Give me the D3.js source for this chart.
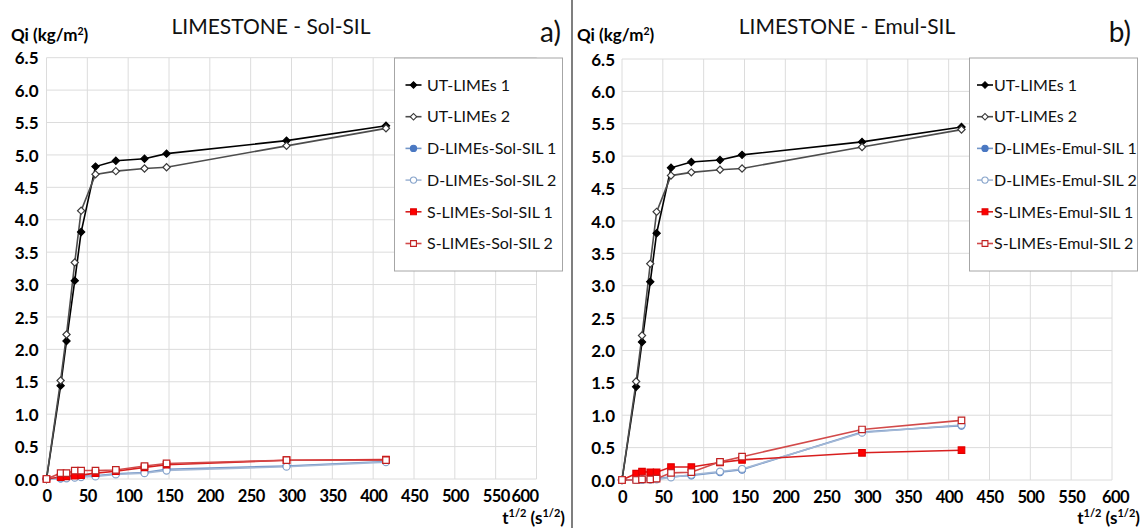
<!DOCTYPE html>
<html>
<head>
<meta charset="utf-8">
<script src="https://cdn.jsdelivr.net/npm/d3@7"></script>
<style>
  html, body { margin: 0; padding: 0; background: #fff; }
  svg { display: block; font-family: Lato, "Open Sans", sans-serif; }
</style>
</head>
<body>
<svg id="chart" width="1141" height="528"></svg>
<script>
// Square root of elapsed time, t^1/2 (s^1/2)
const tSqrt = [0, 17.3, 24.5, 34.6, 42.4, 60, 84.9, 120, 147, 293.9, 415.7];

// Untreated limestone (same in both panels)
const utLimes1 = [0, 1.44, 2.13, 3.06, 3.81, 4.82, 4.91, 4.94, 5.02, 5.22, 5.45];
const utLimes2 = [0, 1.52, 2.23, 3.34, 4.14, 4.70, 4.75, 4.79, 4.81, 5.14, 5.41];

// Sol-SIL treated
const dSol1 = [0, 0.01, 0.02, 0.03, 0.04, 0.05, 0.08, 0.10, 0.15, 0.20, 0.27];
const dSol2 = [0, 0.01, 0.01, 0.02, 0.03, 0.04, 0.07, 0.09, 0.13, 0.19, 0.26];
const sSol1 = [0, 0.03, 0.04, 0.05, 0.06, 0.09, 0.12, 0.18, 0.22, 0.29, 0.30];
const sSol2 = [0, 0.09, 0.09, 0.13, 0.13, 0.13, 0.14, 0.20, 0.24, 0.29, 0.29];

// Emul-SIL treated
const dEmul1 = [0, 0.00, 0.01, 0.01, 0.02, 0.05, 0.07, 0.12, 0.16, 0.74, 0.84];
const dEmul2 = [0, 0.00, 0.00, 0.01, 0.01, 0.04, 0.08, 0.13, 0.17, 0.73, 0.85];
const sEmul1 = [0, 0.10, 0.13, 0.12, 0.12, 0.20, 0.20, 0.27, 0.31, 0.42, 0.46];
const sEmul2 = [0, 0.00, 0.01, 0.01, 0.02, 0.11, 0.12, 0.28, 0.36, 0.78, 0.92];

const xTicks = [0, 50, 100, 150, 200, 250, 300, 350, 400, 450, 500, 550, 600];
const yTicks = [0, 0.5, 1, 1.5, 2, 2.5, 3, 3.5, 4, 4.5, 5, 5.5, 6, 6.5];

const utNames = ["UT-LIMEs 1", "UT-LIMEs 2"];
const solNames = ["D-LIMEs-Sol-SIL 1", "D-LIMEs-Sol-SIL 2", "S-LIMEs-Sol-SIL 1", "S-LIMEs-Sol-SIL 2"];
const emulNames = ["D-LIMEs-Emul-SIL 1", "D-LIMEs-Emul-SIL 2", "S-LIMEs-Emul-SIL 1", "S-LIMEs-Emul-SIL 2"];

// Line/marker styles, in legend order ("diamond" = square turned 45°)
const styles = [
  { line: "#000000", shape: "diamond", fill: "#000000", stroke: "#000000" },
  { line: "#4d4d4d", shape: "diamond", fill: "#ffffff", stroke: "#3a3a3a" },
  { line: "#7396c8", shape: "circle",  fill: "#4a78c2", stroke: "#4a78c2" },
  { line: "#a3b8d6", shape: "circle",  fill: "#ffffff", stroke: "#8aa6cc" },
  { line: "#d81e1e", shape: "square",  fill: "#ff0000", stroke: "#e00000" },
  { line: "#d24a4a", shape: "square",  fill: "#ffffff", stroke: "#c02020" }
];

function markerPath(shape, scale) {
  if (shape === "circle") return d3.symbol().type(d3.symbolCircle).size(38 * scale)();
  if (shape === "square") return d3.symbol().type(d3.symbolSquare).size(42 * scale)();
  return d3.symbol().type(d3.symbolSquare).size(26 * scale)();
}
const markerRot = shape => shape === "diamond" ? " rotate(45)" : "";

const svg = d3.select("#chart");

// panel divider
svg.append("line")
  .attr("x1", 572).attr("x2", 572).attr("y1", 0).attr("y2", 528)
  .attr("stroke", "#555").attr("stroke-width", 1.5);

function drawPanel(cfg) {
  const g = svg.append("g");
  const x = d3.scaleLinear().domain([0, 600]).range([cfg.x0, cfg.x1]);
  const y = d3.scaleLinear().domain([0, 6.5]).range([cfg.y0, cfg.y1]);

  // grid
  g.append("g").selectAll("line").data(xTicks).join("line")
    .attr("x1", d => x(d)).attr("x2", d => x(d))
    .attr("y1", y(0)).attr("y2", y(6.5))
    .attr("stroke", "#dcdcdc").attr("stroke-width", 1);
  g.append("g").selectAll("line").data(yTicks).join("line")
    .attr("x1", x(0)).attr("x2", x(600))
    .attr("y1", d => y(d)).attr("y2", d => y(d))
    .attr("stroke", "#dcdcdc").attr("stroke-width", 1);

  // y axis labels
  const yAxis = d3.axisLeft(y).tickValues(yTicks).tickFormat(d3.format(".1f")).tickSize(0).tickPadding(cfg.yPad);
  const ya = g.append("g").attr("transform", `translate(${x(0)},0)`).call(yAxis);
  ya.select(".domain").remove();
  ya.selectAll("text").attr("font-family", "Lato, sans-serif").attr("font-size", 17)
    .attr("font-weight", "bold").attr("fill", "#000").attr("dy", "0.36em");

  // x axis labels
  const xAxis = d3.axisBottom(x).tickValues(xTicks).tickFormat(d3.format("d")).tickSize(0).tickPadding(17);
  const xa = g.append("g").attr("transform", `translate(0,${y(0)})`).call(xAxis);
  xa.select(".domain").remove();
  xa.selectAll("text").attr("font-family", "Lato, sans-serif").attr("font-size", 16.5)
    .attr("font-weight", "bold").attr("letter-spacing", "-0.6px").attr("fill", "#000").attr("dy", "0.36em");
  xa.selectAll(".tick").filter(d => d === 600).select("text").attr("dx", cfg.lastDx);

  // series
  const line = d3.line().x((d, i) => x(tSqrt[i])).y(d => y(d));
  cfg.series.forEach((vals, k) => {
    const st = styles[k];
    g.append("path").datum(vals).attr("d", line)
      .attr("fill", "none").attr("stroke", st.line).attr("stroke-width", 1.6);
  });
  cfg.series.forEach((vals, k) => {
    const st = styles[k];
    g.append("g").selectAll("path").data(vals).join("path")
      .attr("transform", (d, i) => `translate(${x(tSqrt[i])},${y(d)})` + markerRot(st.shape))
      .attr("d", markerPath(st.shape, 1))
      .attr("fill", st.fill).attr("stroke", st.stroke).attr("stroke-width", 1.2);
  });

  // titles
  g.append("text").attr("x", cfg.titleX).attr("y", 34)
    .attr("text-anchor", "middle").attr("font-size", 21).attr("fill", "#111")
    .text(cfg.title);
  g.append("text").attr("x", cfg.tagX).attr("y", 42)
    .attr("text-anchor", "end").attr("font-size", 28).attr("fill", "#111")
    .text(cfg.tag);

  // y axis title Qi (kg/m²)
  const qi = g.append("text").attr("x", cfg.qiX).attr("y", 41)
    .attr("font-size", 17).attr("font-weight", "bold").attr("fill", "#000");
  qi.append("tspan").text("Qi (kg/m");
  qi.append("tspan").attr("dy", -6).attr("font-size", 10.5).text("2");
  qi.append("tspan").attr("dy", 6).text(")");

  // x axis title t^1/2 (s^1/2)
  const xt = g.append("text").attr("x", cfg.xtX).attr("y", 524)
    .attr("text-anchor", "end").attr("font-size", 17).attr("font-weight", "bold").attr("fill", "#000");
  xt.append("tspan").text("t");
  xt.append("tspan").attr("dy", -7).attr("font-size", 11).text("1/2");
  xt.append("tspan").attr("dy", 7).text(" (s");
  xt.append("tspan").attr("dy", -7).attr("font-size", 11).text("1/2");
  xt.append("tspan").attr("dy", 7).text(")");

  // legend
  const lg = g.append("g");
  lg.append("rect").attr("x", cfg.lgX).attr("y", 58).attr("width", 168).attr("height", 213)
    .attr("fill", "#fff").attr("stroke", "#a6a6a6").attr("stroke-width", 1);
  const ly = d3.scalePoint().domain(d3.range(cfg.names.length)).range([85, 243.5]);
  const item = lg.selectAll("g.item").data(cfg.names).join("g")
    .attr("transform", (d, i) => `translate(0,${ly(i)})`);
  item.append("line").attr("x1", cfg.lgLine[0]).attr("x2", cfg.lgLine[1])
    .attr("stroke", (d, i) => styles[i].line).attr("stroke-width", 1.6);
  item.append("path")
    .attr("transform", (d, i) => `translate(${(cfg.lgLine[0] + cfg.lgLine[1]) / 2},0)` + markerRot(styles[i].shape))
    .attr("d", (d, i) => markerPath(styles[i].shape, 0.8))
    .attr("fill", (d, i) => styles[i].fill).attr("stroke", (d, i) => styles[i].stroke).attr("stroke-width", 1.1);
  item.append("text").attr("x", cfg.lgText).attr("dy", "0.36em")
    .attr("font-size", 16).attr("fill", "#111").text(d => d);
}

drawPanel({
  x0: 46.5, x1: 536.5, y0: 479, y1: 57.7, yPad: 8, lastDx: -12,
  title: "LIMESTONE - Sol-SIL", titleX: 271, tag: "a)", tagX: 561, qiX: 11, xtX: 565,
  lgX: 394.5, lgLine: [405.5, 421.5], lgText: 427,
  names: utNames.concat(solNames),
  series: [utLimes1, utLimes2, dSol1, dSol2, sSol1, sSol2]
});

drawPanel({
  x0: 622, x1: 1112, y0: 480, y1: 59, yPad: 7, lastDx: 3,
  title: "LIMESTONE - Emul-SIL", titleX: 847, tag: "b)", tagX: 1131, qiX: 577, xtX: 1140,
  lgX: 969.5, lgLine: [977, 993], lgText: 994,
  names: utNames.concat(emulNames),
  series: [utLimes1, utLimes2, dEmul1, dEmul2, sEmul1, sEmul2]
});
</script>
</body>
</html>
